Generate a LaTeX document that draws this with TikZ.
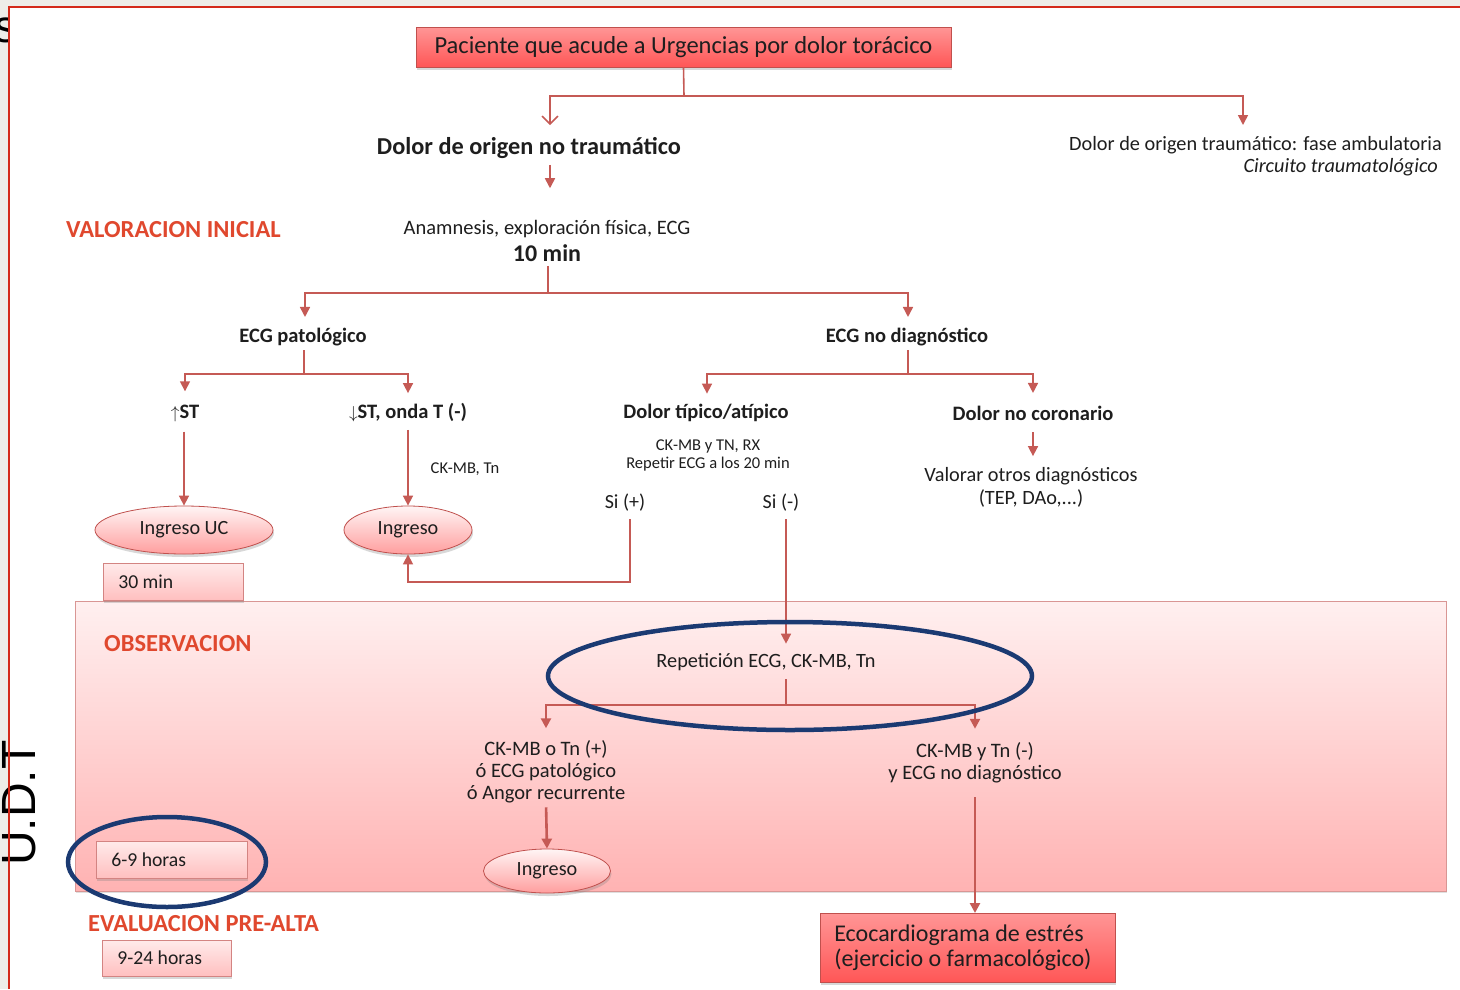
\documentclass[tikz,border=0pt]{standalone}
\usepackage{fontspec}
\setmainfont{Carlito}
\newfontfamily\arialfont{Liberation Sans}
\usetikzlibrary{arrows.meta,shapes.geometric,shadows,calc}

\definecolor{pagegray}{HTML}{EEEDE8}
\definecolor{framered}{HTML}{D42A1A}
\definecolor{linkred}{HTML}{C55A55}
\definecolor{labelred}{HTML}{E0482E}
\definecolor{ink}{HTML}{1E1E1E}
\definecolor{navy}{HTML}{1B3A72}
\definecolor{boxedge}{HTML}{C0504D}

\newcommand\fsz[2]{\fontsize{#1}{#2}\selectfont}

\begin{document}
\begin{tikzpicture}[x=1pt,y=-1pt,
  conn/.style={draw=linkred, line width=1.6pt},
  arr/.style={conn, -{Triangle[length=10pt,width=10pt]}},
  lbl/.style={inner sep=0pt, text=ink},
  sectlbl/.style={inner sep=0pt, anchor=west, text=labelred, font=\bfseries\fsz{24.5}{28}},
  softshadow/.style={drop shadow={opacity=0.3, shadow xshift=1pt, shadow yshift=-3pt}},
  redbox/.style={rectangle, draw=boxedge, line width=0.6pt,
    top color=red!28!pink!90, bottom color=red!55!pink,
    softshadow, text=ink, inner sep=0pt},
  pinkbox/.style={rectangle, draw=boxedge!70, line width=0.6pt,
    top color=red!8, bottom color=red!25, softshadow, text=ink,
    anchor=west, inner xsep=15pt, inner ysep=0pt, align=flush left,
    font=\fsz{19.7}{22}},
  oval/.style={ellipse, draw=boxedge, line width=0.8pt, inner sep=0pt,
    top color=red!4, bottom color=red!38, softshadow, text=ink,
    font=\fsz{20.2}{23}},
  ring/.style={ellipse, draw=navy, line width=4.5pt, inner sep=0pt, fill=none}
]
\useasboundingbox (0,0) rectangle (1460,989);

% page and frame
\fill[pagegray] (0,0) rectangle (1460,989);
\node[inner sep=0pt, anchor=base, font=\arialfont\fsz{46}{46}] (sfrag) at (6,42) {s};
\fill[white] (9,7) rectangle (1460,989);
\node[inner sep=0pt, rotate=90, anchor=base west, font=\arialfont\fsz{48}{48}] (udt) at (35,866) {U.D.T};
\draw[framered, line width=2pt] (9,989) -- (9,7) -- (1460,7);

% observation area
\fill[drop shadow={opacity=0.25, shadow xshift=1pt, shadow yshift=-2pt}, top color=red!6, bottom color=red!30]
  (75,601) rectangle (1446,891);
\draw[boxedge!60, line width=0.8pt] (75,601) rectangle (1446,891);

% section labels
\node[sectlbl] (valini) at (66,230) {VALORACION INICIAL};
\node[sectlbl] (obs) at (104,644) {OBSERVACION};
\node[sectlbl] (prealta) at (88,924) {EVALUACION PRE-ALTA};

% time boxes
\node[pinkbox, minimum width=140, minimum height=37, text width=110] (t30) at (103,581.5) {30 min};
\node[pinkbox, minimum width=151, minimum height=37, text width=121] (t69) at (96,859.5) {6-9 horas};
\node[pinkbox, minimum width=129, minimum height=36, text width=99] (t924) at (102,958) {9-24 horas};

% top of the chart
\node[redbox, minimum width=535, minimum height=40, font=\fsz{24.5}{28}] (title) at (683.5,47) {Paciente que acude a Urgencias por dolor torácico};
\node[lbl, font=\bfseries\fsz{24.3}{28}] (nt) at (529,148) {Dolor de origen no traumático};
\node[lbl, anchor=east, font=\fsz{20.3}{24}] (tr) at (1442,145) {Dolor de origen traumático: fase ambulatoria};
\node[lbl, anchor=east, font=\itshape\fsz{20.3}{24}] (tr2) at (1438,167) {Circuito traumatológico};

\coordinate (j1) at (684,96);
\coordinate (c1) at (550,96);
\coordinate (c2) at (1243,96);
\draw[conn] (title.south) -- (j1);
\draw[conn, -{Straight Barb[length=8pt,width=16pt]}, shorten >=12pt] (j1) -- (c1) -- (c1 |- nt.north);
\draw[arr, shorten >=11pt] (j1) -- (c2) -- (c2 |- tr.north);

% initial assessment
\node[lbl, font=\fsz{20.5}{24}] (anam) at (547,229) {Anamnesis, exploración física, ECG};
\node[lbl, font=\bfseries\fsz{24}{28}] (tenmin) at (547,253) {10 min};
\coordinate (c0) at (550,150);
\draw[arr, shorten <=6pt, shorten >=31.8pt] (c0 |- nt.south) -- (c0 |- anam.north);

\node[lbl, font=\bfseries\fsz{20.5}{24}] (ecgp) at (303,337) {ECG patológico};
\node[lbl, font=\bfseries\fsz{20.5}{24}] (ecgn) at (907,337) {ECG no diagnóstico};
\coordinate (j2) at (548,293);
\coordinate (c3) at (305,293);
\coordinate (c4) at (908,293);
\draw[conn, shorten <=4.2pt] (j2 |- tenmin.south) -- (j2);
\draw[arr, shorten >=10.9pt] (j2) -- (c3) -- (c3 |- ecgp.north);
\draw[arr, shorten >=10.9pt] (j2) -- (c4) -- (c4 |- ecgn.north);

% second level
\node[lbl, font=\bfseries\fsz{20.5}{24}] (stup) at (185,413) {{\fsz{17}{17}$\uparrow$}ST};
\node[lbl, font=\bfseries\fsz{20.5}{24}] (stdown) at (408,413) {{\fsz{17}{17}$\downarrow$}ST, onda T (-)};
\node[lbl, font=\bfseries\fsz{20.5}{24}] (tipico) at (706,413) {Dolor típico/atípico};
\node[lbl, font=\bfseries\fsz{20.5}{24}] (nocor) at (1033,413) {Dolor no coronario};

\coordinate (j3) at (304,374);
\coordinate (c5) at (185,374);
\coordinate (c6) at (408,374);
\coordinate (j4) at (908,374);
\coordinate (c7) at (707,374);
\coordinate (c8) at (1033,374);
\draw[conn, shorten <=3.9pt] (j3 |- ecgp.south) -- (j3);
\draw[arr, shorten >=13.1pt] (j3) -- (c5) -- (c5 |- stup.north);
\draw[arr, shorten >=10.4pt] (j3) -- (c6) -- (c6 |- stdown.north);
\draw[conn, shorten <=3.9pt] (j4 |- ecgn.south) -- (j4);
\draw[arr, shorten >=10.4pt] (j4) -- (c7) -- (c7 |- tipico.north);
\draw[arr, shorten >=12.6pt] (j4) -- (c8) -- (c8 |- nocor.north);

% admissions
\node[oval, minimum width=178, minimum height=48] (ingUC) at (184,530) {Ingreso UC};
\node[oval, minimum width=128, minimum height=48] (ing2) at (408,530) {Ingreso};
\draw[arr, shorten <=10pt] (stup.south -| ingUC.north) -- (ingUC.north);
\draw[arr, shorten <=7.4pt] (stdown.south -| ing2.north) -- (ing2.north);
\node[lbl, font=\fsz{16.5}{19}] (ckmbtn) at (465,469) {CK-MB, Tn};

% typical / atypical pain
\node[lbl, font=\fsz{16.5}{19}] (ck2) at (708,446) {CK-MB y TN, RX};
\node[lbl, font=\fsz{16.5}{19}] (ck3) at (708,464) {Repetir ECG a los 20 min};
\node[lbl, font=\fsz{20}{23}] (sp) at (625,503) {Si (+)};
\node[lbl, font=\fsz{20}{23}] (sm) at (781,503) {Si (-)};
\coordinate (c9) at (630,582);
\draw[arr, shorten <=7.5pt] (sp.south -| c9) -- (c9) -| (ing2.south);

% non coronary pain
\node[lbl, font=\fsz{20.3}{23}] (val1) at (1031,476) {Valorar otros diagnósticos};
\node[lbl, font=\fsz{20.3}{23}] (val2) at (1031,498) {(TEP, DAo,...)};
\draw[arr, shorten <=11.6pt, shorten >=10.9pt] (nocor.south) -- (nocor.south |- val1.north);

% observation
\node[lbl, font=\fsz{20.3}{23}] (rep) at (766,662) {Repetición ECG, CK-MB, Tn};
\coordinate (j5) at (786,705);
\coordinate (c11) at (546,705);
\coordinate (c12) at (975,705);
\draw[arr, shorten <=7.5pt, shorten >=9.5pt] (sm.south -| j5) -- (rep.north -| j5);
\node[lbl, font=\fsz{20.5}{22}, align=center] (posi) at (546,772) {CK-MB o Tn (+)\\ó ECG patológico\\ó Angor recurrente};
\node[lbl, font=\fsz{20.5}{22}, align=center] (nega) at (975,762.5) {CK-MB y Tn (-)\\y ECG no diagnóstico};
\draw[conn, line width=2.6pt, shorten <=8.5pt] (rep.south -| j5) -- (j5);
\draw[arr, line width=2.6pt, shorten >=12.3pt] (j5) -- (c11) -- (c11 |- posi.north);
\draw[arr, line width=2.6pt, shorten >=13.3pt] (j5) -- (c12) -- (c12 |- nega.north);

\node[oval, minimum width=127, minimum height=44] (ing3) at (547,871) {Ingreso};
\draw[arr, line width=2.6pt, shorten <=3.8pt] (posi.south) -- (ing3.north);

\node[redbox, minimum width=295, minimum height=69, anchor=north west, inner xsep=14pt,
  text width=267, align=flush left, font=\fsz{24}{25}] (eco) at (820,913) {Ecocardiograma de estrés\\(ejercicio o farmacológico)};
\draw[arr, line width=2.6pt, shorten <=14.3pt] (nega.south) -- (nega.south |- eco.north);

% highlight rings
\node[ring, minimum width=484, minimum height=108] (ring1) at (790,676) {};
\node[ring, minimum width=198, minimum height=90] (ring2) at (167,862) {};
\end{tikzpicture}
\end{document}
